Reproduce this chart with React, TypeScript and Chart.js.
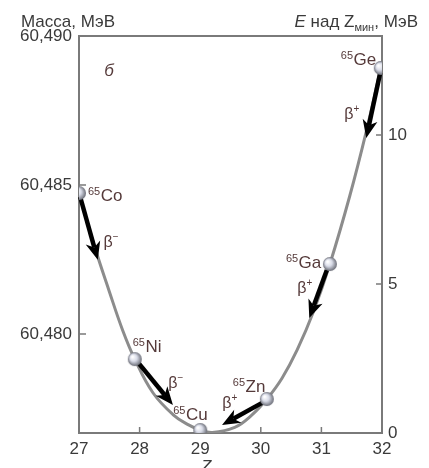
import React, { useEffect, useRef } from 'react';
import { Chart, registerables } from 'chart.js';

Chart.register(...registerables);

// ---- data ----
const zTicks = [27, 28, 29, 30, 31, 32];
const massTicks = [60.48, 60.485, 60.49];
const energyTicks = [0, 5, 10];

const isotopeNames = ['Co', 'Ni', 'Cu', 'Zn', 'Ga', 'Ge'];
const isotopeMassNumber = ['65', '65', '65', '65', '65', '65'];
const isotopeZ = [27.0, 27.92, 29.0, 30.1, 31.14, 31.98];
const isotopeE = [8.05, 2.48, 0.1, 1.14, 5.67, 12.25];

const curveZ = [27.0, 27.25, 27.5, 27.72, 27.92, 28.22, 28.55, 28.8, 29.0, 29.2, 29.57, 29.85, 30.1, 30.35, 30.6, 30.87, 31.14, 31.47, 31.75, 31.98];
const curveE = [8.05, 6.3, 4.75, 3.45, 2.48, 1.35, 0.62, 0.28, 0.1, 0.02, 0.19, 0.6, 1.14, 1.84, 2.79, 4.08, 5.67, 7.97, 10.2, 12.25];

const arrowFromZ = [27.02, 27.97, 30.02, 31.09, 31.97];
const arrowFromE = [7.92, 2.38, 1.01, 5.47, 12.08];
const arrowToZ = [27.31, 28.55, 29.36, 30.8, 31.74];
const arrowToE = [5.81, 0.94, 0.27, 3.86, 9.9];
const arrowSigns = ['−', '−', '+', '+', '+'];

// ---- styling / layout ----
const W = 429;
const H = 468;
const AREA = { left: 79, right: 382, top: 36, bottom: 433 };
const FONT = '"Liberation Sans", Arial, Helvetica, sans-serif';
const AXIS_COLOR = '#7a7a7a';
const TEXT_COLOR = '#3a3a3a';
const LABEL_COLOR = '#553a3a';
// offsets (px) of isotope labels: left edge of superscript, baseline of symbol
const isoLabelOffsets: [number, number][] = [[9, 8], [-2, -7], [-27, -10], [-34, -7], [-44, 4], [-40, -3]];
// beta label centres relative to the arrow's parent ball
const betaOffsets: [number, number][] = [[32, 49], [41, 24], [-37, 4], [-25, 24], [-29, 46]];
const betaParent = [0, 1, 3, 4, 5];

// mass axis: 60.480 at same place, top = 60.490
const massMax = 60.49;
const massMin = 60.48 - (0.01 * (AREA.bottom - 334)) / (334 - AREA.top);
const energyMax = (AREA.bottom - AREA.top) / 29.8;

function makeBall(r: number): HTMLCanvasElement {
  const c = document.createElement('canvas');
  const s = Math.ceil(r * 2 + 2);
  c.width = s;
  c.height = s;
  const ctx = c.getContext('2d')!;
  const cx = s / 2;
  const g = ctx.createRadialGradient(cx - r * 0.35, cx - r * 0.35, r * 0.1, cx, cx, r);
  g.addColorStop(0, '#ffffff');
  g.addColorStop(0.45, '#d9dce8');
  g.addColorStop(1, '#6a6c76');
  ctx.fillStyle = g;
  ctx.beginPath();
  ctx.arc(cx, cx, r, 0, Math.PI * 2);
  ctx.fill();
  return c;
}

function drawArrow(ctx: CanvasRenderingContext2D, x1: number, y1: number, x2: number, y2: number) {
  const ang = Math.atan2(y2 - y1, x2 - x1);
  const dx = Math.cos(ang);
  const dy = Math.sin(ang);
  const px = -dy;
  const py = dx;
  const headLen = 18;
  const headW = 7.5;
  const bx = x2 - headLen * dx;
  const by = y2 - headLen * dy;
  const nx = x2 - headLen * 0.72 * dx;
  const ny = y2 - headLen * 0.72 * dy;
  ctx.save();
  ctx.strokeStyle = '#000';
  ctx.fillStyle = '#000';
  ctx.lineWidth = 4.5;
  ctx.lineCap = 'butt';
  ctx.beginPath();
  ctx.moveTo(x1, y1);
  ctx.lineTo(nx, ny);
  ctx.stroke();
  ctx.beginPath();
  ctx.moveTo(x2, y2);
  ctx.lineTo(bx + px * headW, by + py * headW);
  ctx.lineTo(nx, ny);
  ctx.lineTo(bx - px * headW, by - py * headW);
  ctx.closePath();
  ctx.fill();
  ctx.restore();
}

const decorPlugin = {
  id: 'decor',
  beforeDatasetsDraw(chart: any) {
    const { ctx, chartArea: a, scales } = chart;
    ctx.save();
    ctx.strokeStyle = AXIS_COLOR;
    ctx.lineWidth = 2;
    ctx.strokeRect(a.left, a.top, a.right - a.left, a.bottom - a.top);
    ctx.lineWidth = 1.5;
    ctx.beginPath();
    zTicks.forEach((v) => {
      const x = scales.x.getPixelForValue(v);
      ctx.moveTo(x, a.bottom);
      ctx.lineTo(x, a.bottom - 6);
    });
    massTicks.forEach((v) => {
      const y = scales.mass.getPixelForValue(v);
      ctx.moveTo(a.left, y);
      ctx.lineTo(a.left + 7, y);
    });
    energyTicks.forEach((v) => {
      const y = scales.y.getPixelForValue(v);
      ctx.moveTo(a.right, y);
      ctx.lineTo(a.right - 6, y);
    });
    ctx.stroke();
    ctx.restore();
  },
  afterDatasetDraw(chart: any, args: any) {
    if (args.index !== 1) return;
    const { ctx, scales } = chart;
    for (let i = 0; i < arrowFromZ.length; i++) {
      drawArrow(
        ctx,
        scales.x.getPixelForValue(arrowFromZ[i]),
        scales.y.getPixelForValue(arrowFromE[i]),
        scales.x.getPixelForValue(arrowToZ[i]),
        scales.y.getPixelForValue(arrowToE[i])
      );
    }
  },
  afterDraw(chart: any) {
    const { ctx, chartArea: a, scales } = chart;
    ctx.save();
    ctx.textBaseline = 'alphabetic';
    // isotope labels
    isotopeNames.forEach((name, i) => {
      const bx = scales.x.getPixelForValue(isotopeZ[i]);
      const by = scales.y.getPixelForValue(isotopeE[i]);
      const [ox, oy] = isoLabelOffsets[i];
      const x = bx + ox;
      const y = by + oy;
      ctx.fillStyle = LABEL_COLOR;
      ctx.font = `11px ${FONT}`;
      ctx.textAlign = 'left';
      ctx.fillText(isotopeMassNumber[i], x, y - 6);
      const w = ctx.measureText(isotopeMassNumber[i]).width;
      ctx.font = `17px ${FONT}`;
      ctx.fillText(name, x + w + 0.5, y);
    });
    // beta labels
    arrowSigns.forEach((sign, i) => {
      const p = betaParent[i];
      const bx = scales.x.getPixelForValue(isotopeZ[p]);
      const by = scales.y.getPixelForValue(isotopeE[p]);
      const [ox, oy] = betaOffsets[i];
      ctx.fillStyle = LABEL_COLOR;
      ctx.font = `16px ${FONT}`;
      const bw = ctx.measureText('β').width;
      ctx.font = `10px ${FONT}`;
      const sw = ctx.measureText(sign).width;
      const x0 = bx + ox - (bw + sw) / 2;
      ctx.font = `16px ${FONT}`;
      ctx.textAlign = 'left';
      ctx.fillText('β', x0, by + oy + 5);
      ctx.font = `10px ${FONT}`;
      ctx.fillText(sign, x0 + bw, by + oy - 2);
    });
    // panel letter
    ctx.fillStyle = LABEL_COLOR;
    ctx.font = `italic 17px ${FONT}`;
    ctx.textAlign = 'center';
    ctx.fillText('б', a.left + 30, a.top + 40);
    // axis titles
    ctx.fillStyle = TEXT_COLOR;
    ctx.font = `17px ${FONT}`;
    ctx.textAlign = 'left';
    ctx.fillText('Масса, МэВ', 21, 27);
    // right title: E над Zмин, МэВ (right aligned at 418)
    const parts: [string, string, number][] = [
      ['E', `italic 17px ${FONT}`, 0],
      [' над Z', `17px ${FONT}`, 0],
      ['мин', `11px ${FONT}`, 4],
      [', МэВ', `17px ${FONT}`, 0],
    ];
    let total = 0;
    parts.forEach(([t, f]) => {
      ctx.font = f;
      total += ctx.measureText(t).width;
    });
    let x = 418 - total;
    parts.forEach(([t, f, dy]) => {
      ctx.font = f;
      ctx.fillText(t, x, 27 + dy);
      x += ctx.measureText(t).width;
    });
    // x title
    ctx.font = `italic 17px ${FONT}`;
    ctx.textAlign = 'center';
    ctx.fillText('Z', scales.x.getPixelForValue(29.1), 472);
    ctx.restore();
  },
};

export default function App() {
  const ref = useRef<HTMLCanvasElement | null>(null);
  useEffect(() => {
    if (!ref.current) return;
    const ball = makeBall(7);
    const chart = new Chart(ref.current, {
      type: 'scatter',
      data: {
        datasets: [
          {
            label: 'isotopes',
            data: isotopeZ.map((z, i) => ({ x: z, y: isotopeE[i] })),
            pointStyle: ball as any,
            pointRadius: 7,
            showLine: false,
            yAxisID: 'y',
          },
          {
            label: 'curve',
            data: curveZ.map((z, i) => ({ x: z, y: curveE[i] })),
            showLine: true,
            borderColor: '#8c8c8c',
            borderWidth: 3,
            pointRadius: 0,
            tension: 0.4,
            fill: false,
            yAxisID: 'y',
          } as any,
        ],
      },
      options: {
        responsive: false,
        animation: false,
        devicePixelRatio: 1,
        layout: { padding: { top: AREA.top, left: 0, right: 0, bottom: 0 } },
        plugins: { legend: { display: false }, tooltip: { enabled: false } },
        scales: {
          x: {
            type: 'linear',
            min: 27,
            max: 32,
            grid: { display: false, drawTicks: false },
            border: { display: false },
            afterBuildTicks: (s: any) => {
              s.ticks = zTicks.map((v) => ({ value: v }));
            },
            afterFit: (s: any) => {
              s.height = H - AREA.bottom;
            },
            ticks: {
              color: TEXT_COLOR,
              font: { family: FONT, size: 17 },
              padding: 6,
              maxRotation: 0,
              autoSkip: false,
              callback: (v: any) => String(v),
            },
          },
          mass: {
            type: 'linear',
            position: 'left',
            min: massMin,
            max: massMax,
            grid: { display: false, drawTicks: false },
            border: { display: false },
            afterBuildTicks: (s: any) => {
              s.ticks = massTicks.map((v) => ({ value: v }));
            },
            afterFit: (s: any) => {
              s.width = AREA.left;
            },
            ticks: {
              color: TEXT_COLOR,
              font: { family: FONT, size: 17 },
              padding: 7,
              callback: (v: any) => Number(v).toFixed(3).replace('.', ','),
            },
          },
          y: {
            type: 'linear',
            position: 'right',
            min: 0,
            max: energyMax,
            grid: { display: false, drawTicks: false },
            border: { display: false },
            afterBuildTicks: (s: any) => {
              s.ticks = energyTicks.map((v) => ({ value: v }));
            },
            afterFit: (s: any) => {
              s.width = W - AREA.right;
            },
            ticks: {
              color: TEXT_COLOR,
              font: { family: FONT, size: 17 },
              padding: 6,
              callback: (v: any) => String(v),
            },
          },
        },
      } as any,
      plugins: [decorPlugin],
    });
    return () => chart.destroy();
  }, []);
  return (
    <div style={{ position: 'fixed', left: 0, top: 0, width: W, height: H, background: '#fff' }}>
      <canvas ref={ref} width={W} height={H} style={{ width: W, height: H, display: 'block' }} />
    </div>
  );
}
